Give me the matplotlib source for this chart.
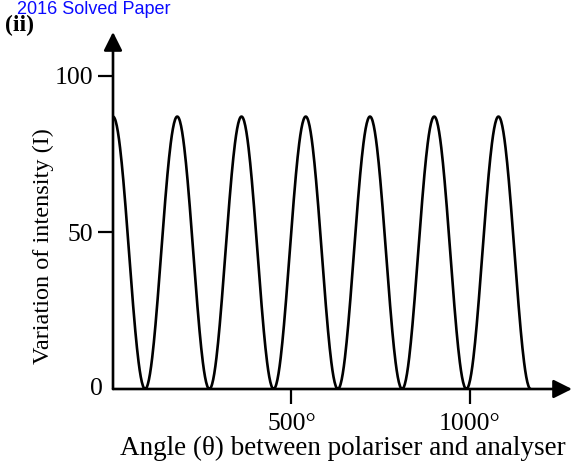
import numpy as np
import matplotlib
matplotlib.use("Agg")
import matplotlib.pyplot as plt

# ---- data ----
peak_angles = [0, 180, 360, 540, 720, 900, 1080]          # degrees, maxima
trough_angles = [90, 270, 450, 630, 810, 990, 1170]       # degrees, minima
peak_intensity = 87
trough_intensity = 0
x_ticks = [500, 1000]
x_tick_labels = ["500°", "1000°"]
y_ticks = [50, 100]
y_tick_labels = ["50", "100"]

# build the curve between consecutive extrema (smooth half-cosine joins)
ext = sorted([(a, peak_intensity) for a in peak_angles] +
             [(a, trough_intensity) for a in trough_angles])
xs, ys = [], []
for (a0, v0), (a1, v1) in zip(ext[:-1], ext[1:]):
    t = np.linspace(0, 1, 60)
    w = (1 - np.cos(np.pi * t)) / 2
    xs.extend(a0 + (a1 - a0) * t)
    ys.extend(v0 + (v1 - v0) * w)

W, H = 572, 473
fig = plt.figure(figsize=(W / 100, H / 100), dpi=100)
plt.rcParams['font.family'] = ['Liberation Serif', 'DejaVu Serif']

ax = fig.add_axes([113 / W, 1 - 389 / H, (572 - 113) / W, (389 - 32) / H])
ax.set_xlim(0, 1286)
ax.set_ylim(0, 114)
ax.plot(xs, ys, color='black', lw=1.9, solid_capstyle='round')

for s in ['top', 'right', 'left', 'bottom']:
    ax.spines[s].set_visible(False)

# axes with arrows
for tip in [(1, 0), (0, 1)]:
    ax.annotate('', xy=tip, xytext=(0, 0), xycoords='axes fraction',
                arrowprops=dict(arrowstyle='-|>', color='black', lw=1.9,
                                mutation_scale=28, shrinkA=0, shrinkB=0),
                annotation_clip=False)

ax.set_xticks(x_ticks)
ax.set_xticklabels(x_tick_labels, fontsize=18.5)
ax.set_yticks(y_ticks)
ax.set_yticklabels(y_tick_labels, fontsize=18.5)
ax.tick_params(axis='both', direction='out', length=11, width=1.6, color='black')
ax.tick_params(axis='x', pad=6)
ax.tick_params(axis='y', pad=3)
ax.text(-0.022, 0, "0", transform=ax.transAxes, fontsize=18.5, ha='right', va='center')

ax.set_xlabel("Angle (θ) between polariser and analyser", fontsize=19.5, labelpad=1)
fig.text(43 / W, 1 - 246 / H, "Variation of intensity (I)", rotation=90,
         fontsize=17.5, ha='center', va='center')

fig.text(5 / W, 1 - 25 / H, "(ii)", fontsize=17, fontweight='bold', ha='left', va='center')
fig.text(17 / W, 1 - 0.5 / H, "2016 Solved Paper", fontsize=13, color='#0a0aff',
         family=['Liberation Sans', 'DejaVu Sans'], ha='left', va='top')

fig.savefig("out.png", dpi=100)
